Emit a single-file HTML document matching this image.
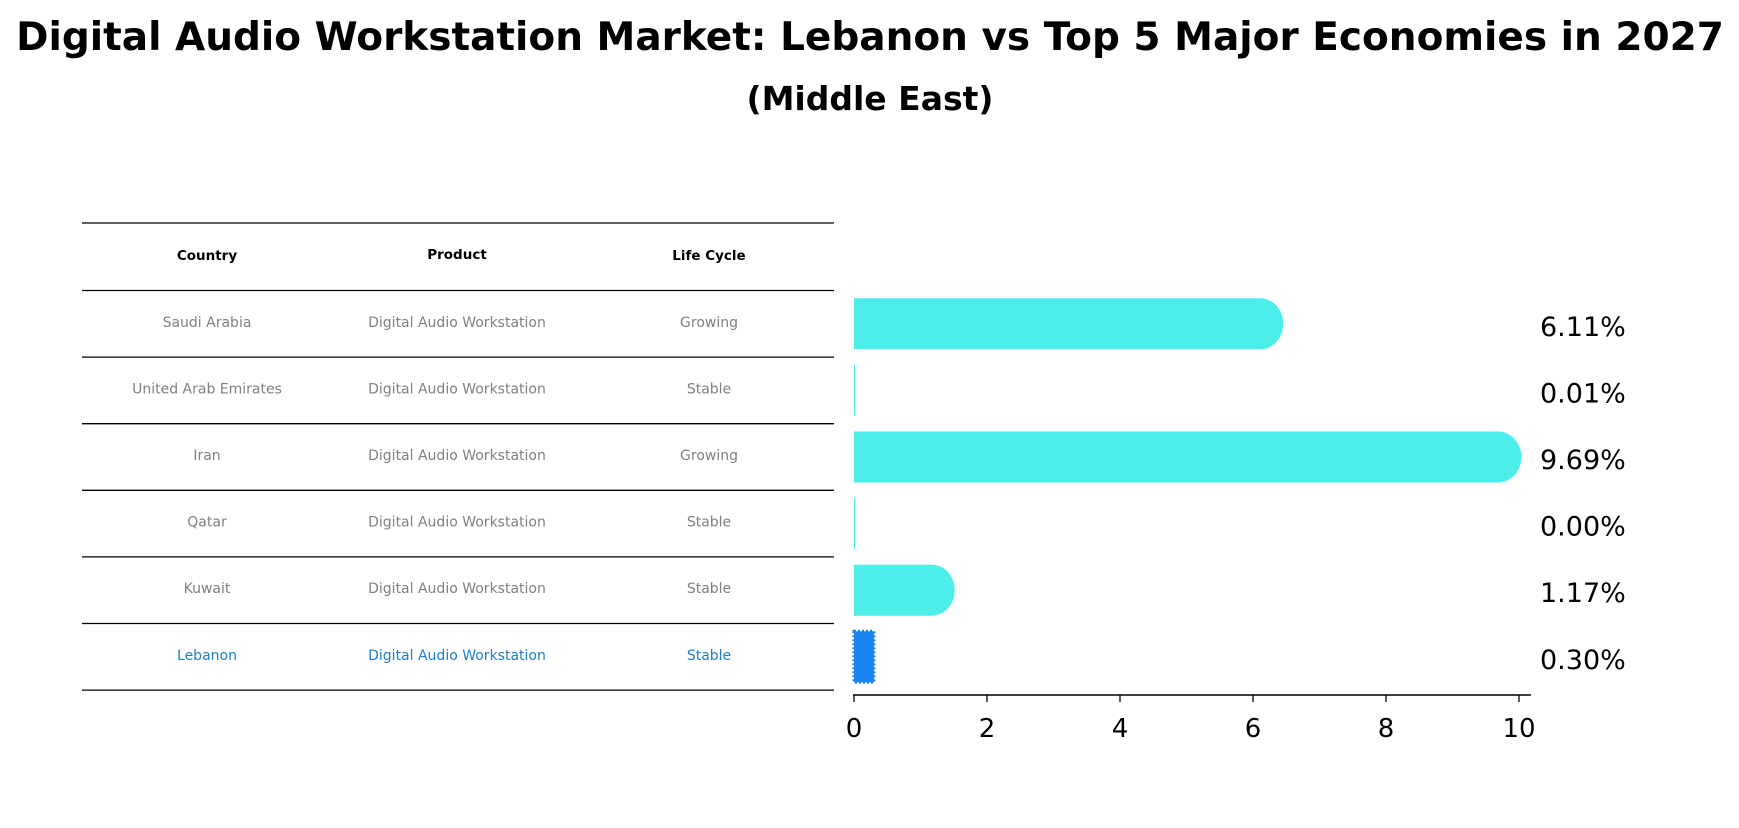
<!DOCTYPE html>
<html><head><meta charset="utf-8"><style>
body{margin:0;background:#fff;width:1739px;height:823px;overflow:hidden;font-family:"Liberation Sans","DejaVu Sans",sans-serif}
</style></head><body>
<svg width="1739" height="823" xmlns="http://www.w3.org/2000/svg" font-family="DejaVu Sans, Liberation Sans, sans-serif">
<text x="870" y="50" text-anchor="middle" font-size="39" font-weight="bold">Digital Audio Workstation Market: Lebanon vs Top 5 Major Economies in 2027</text>
<text x="870" y="110" text-anchor="middle" font-size="33" font-weight="bold">(Middle East)</text>
<g id="table"></g>
<g id="bars"></g>
<g id="axis"></g>
</svg>
<script>
const countries=["Saudi Arabia","United Arab Emirates","Iran","Qatar","Kuwait","Lebanon"];
const products=["Digital Audio Workstation","Digital Audio Workstation","Digital Audio Workstation","Digital Audio Workstation","Digital Audio Workstation","Digital Audio Workstation"];
const lifeCycles=["Growing","Stable","Growing","Stable","Stable","Stable"];
const values=[6.11,0.01,9.69,0.00,1.17,0.30];
const ticks=[0,2,4,6,8,10];
const NS="http://www.w3.org/2000/svg";
function mk(t,a,p){const e=document.createElementNS(NS,t);for(const k in a)e.setAttribute(k,a[k]);p.appendChild(e);return e;}
const x=v=>854+v*66.5;
const rowTop=290.5,rowH=66.6;
const yc=i=>rowTop+rowH*(i+0.5);
const tbl=document.getElementById('table');
const colX=[207,457,709];
const heads=["Country","Product","Life Cycle"];
for(let j=0;j<3;j++){const t=mk('text',{x:colX[j],y:[260,259,260][j],'text-anchor':'middle','font-size':13.5,'font-weight':'bold'},tbl);t.textContent=heads[j];

}
for(let i=0;i<=countries.length+1;i++){const yy=i==0?223:rowTop+rowH*(i-1);const l=mk('line',{x1:82,x2:834,y1:yy,y2:yy,stroke:'#000','stroke-width':1.3},tbl);

}
for(let i=0;i<countries.length;i++){const c=i==5?'#1a7fd0':'#808080';const cells=[countries[i],products[i],lifeCycles[i]];
for(let j=0;j<3;j++){const t=mk('text',{x:colX[j],y:yc(i)+3,'text-anchor':'middle','font-size':14,fill:c},tbl);t.textContent=cells[j];

}}
const bars=document.getElementById('bars');
for(let i=0;i<values.length;i++){const v=values[i],h=51,y0=yc(i)-h/2,w=x(v)-x(0);let el;
if(i==5){el=mk('rect',{x:x(0),y:y0,width:Math.max(w,1),height:h,fill:'#1a85f0',stroke:'#1a85f0','stroke-width':3,'stroke-dasharray':'2 2'},bars);}
else if(w<2){el=mk('rect',{x:x(0),y:y0,width:1,height:h,fill:'#4deeea'},bars);}
else{const r=h/2;el=mk('path',{d:`M${x(0)},${y0}H${x(v)}A${r*0.9},${r} 0 0 1 ${x(v)},${y0+h}H${x(0)}Z`,fill:'#4deeea'},bars);}


const t=mk('text',{x:1540,y:yc(i)+12,'font-size':27},bars);t.textContent=v.toFixed(2)+'%';

}
const ax=document.getElementById('axis');
mk('line',{x1:853,x2:1531,y1:695,y2:695,stroke:'#000','stroke-width':1.5},ax);
ticks.forEach(v=>{mk('line',{x1:x(v),x2:x(v),y1:695,y2:702,stroke:'#000','stroke-width':1.3},ax);
const t=mk('text',{x:x(v),y:737,'text-anchor':'middle','font-size':26},ax);t.textContent=v;

});
</script>
</body></html>
